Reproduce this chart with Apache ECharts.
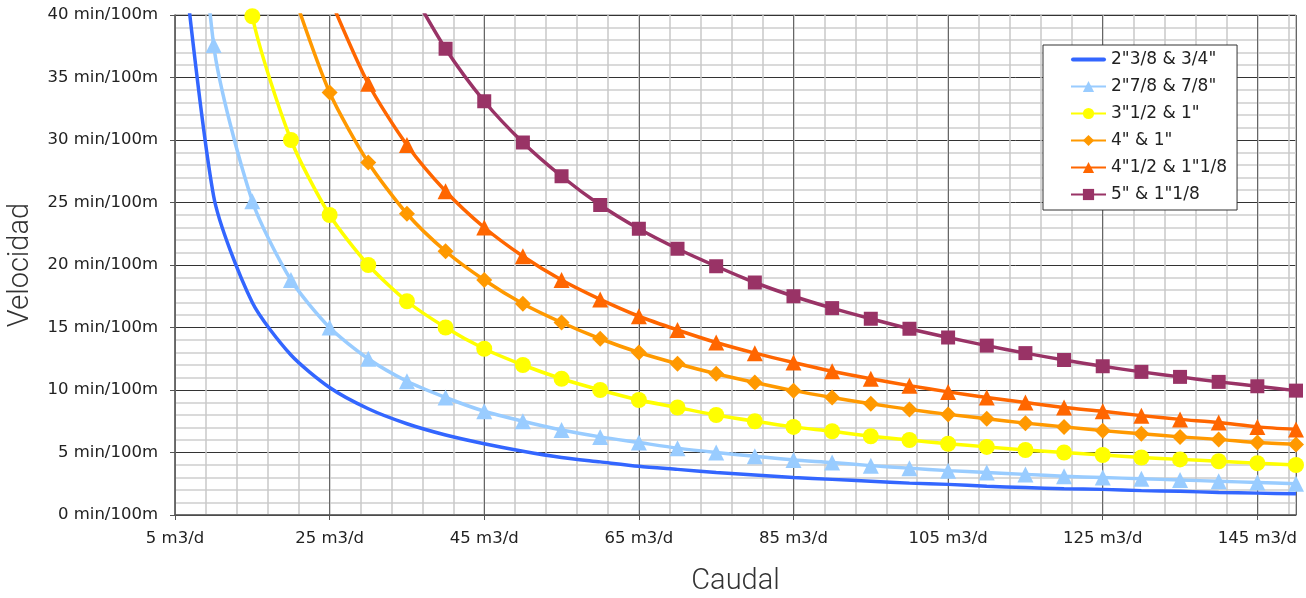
<!DOCTYPE html>
<html><head><meta charset="utf-8">
<script src="https://cdn.jsdelivr.net/npm/echarts@6/dist/echarts.min.js"></script>
<style>html,body{margin:0;padding:0;background:#fff}#c{width:1306px;height:598px}</style>
</head><body><div id="c"></div>
<script>
// Caudal (m3/d)
var caudal = [5,10,15,20,25,30,35,40,45,50,55,60,65,70,75,80,85,90,95,100,105,110,115,120,125,130,135,140,145,150];
var seriesNames = ['2"3/8 & 3/4"', '2"7/8 & 7/8"', '3"1/2 & 1"', '4" & 1"', '4"1/2 & 1"1/8', '5" & 1"1/8'];
// Velocidad (min/100m)
var v1 = [51,25.5,17,12.8,10.2,8.5,7.3,6.4,5.7,5.1,4.6,4.25,3.9,3.65,3.4,3.2,3.0,2.85,2.7,2.55,2.45,2.3,2.2,2.1,2.05,1.95,1.9,1.8,1.75,1.7];
var v2 = [75,37.6,25.1,18.8,15.0,12.5,10.7,9.4,8.3,7.5,6.8,6.25,5.8,5.35,5.0,4.7,4.4,4.2,3.95,3.75,3.55,3.4,3.25,3.1,3.0,2.9,2.8,2.7,2.6,2.5];
var v3 = [null,60,39.9,30,24,20,17.1,15,13.3,12,10.9,10,9.2,8.6,8,7.5,7.05,6.7,6.3,6,5.7,5.45,5.2,5,4.8,4.6,4.45,4.3,4.15,4.0];
var v4 = [null,null,null,42.3,33.8,28.2,24.1,21.1,18.8,16.9,15.4,14.1,13,12.1,11.3,10.6,9.95,9.4,8.9,8.45,8.05,7.7,7.35,7.05,6.75,6.5,6.25,6.05,5.8,5.65];
var v5 = [null,null,null,null,41.4,34.5,29.6,25.9,23,20.7,18.8,17.25,15.9,14.8,13.8,12.95,12.2,11.5,10.9,10.35,9.85,9.4,9.0,8.6,8.3,7.95,7.65,7.4,7.05,6.85];
var v6 = [null,null,null,null,null,null,42.6,37.3,33.1,29.8,27.1,24.8,22.9,21.3,19.9,18.6,17.5,16.55,15.7,14.9,14.2,13.55,12.95,12.4,11.9,11.45,11.05,10.65,10.3,9.95];
var values = [v1,v2,v3,v4,v5,v6];
var colors = ['#3366ff','#99ccff','#ffff00','#ff9900','#ff6600','#993366'];
var symbols = ['none','triangle','circle','diamond','triangle','rect'];
var symSizes = [0,16,16,16,16,14];

function pairs(arr){ return caudal.map(function(q,i){ return arr[i]==null ? null : [q, arr[i]]; }).filter(function(p){return p;}); }

var tickFont = 'DejaVu Sans, sans-serif';
var legendData = seriesNames.map(function(n,i){
  return i===0 ? {name:n, icon:'path://M2,0 L33,0 A2,2 0 0 1 33,4 L2,4 A2,2 0 0 1 2,0 Z'} : {name:n};
});

var chart = echarts.init(document.getElementById('c'));
chart.setOption({
  animation:false,
  grid:{left:175,right:10,top:15,bottom:83,show:true,borderColor:'#888',borderWidth:1,outerBoundsMode:'none',containLabel:false},
  legend:{
    orient:'vertical', left:1043, top:45,
    backgroundColor:'#fff', borderColor:'#333', borderWidth:1,
    padding:[6,10,7,27], itemWidth:35, itemHeight:14, itemGap:10,
    textStyle:{fontFamily:tickFont, fontSize:17, color:'#222', lineHeight:17},
    data: legendData
  },
  xAxis:[{
    type:'value', min:5, max:150, interval:20,
    name:'Caudal', nameLocation:'middle', nameGap:52,
    nameTextStyle:{fontFamily:'Roboto, sans-serif', fontWeight:300, fontSize:29, color:'#333', lineHeight:29},
    axisLine:{show:true, lineStyle:{color:'#555', width:1.5}},
    axisTick:{show:true, length:5, lineStyle:{color:'#555'}},
    axisLabel:{formatter:'{value} m3/d', fontFamily:tickFont, fontSize:16.5, color:'#222', margin:15, showMaxLabel:false},
    splitLine:{show:true, lineStyle:{color:'#666', width:1}},
    z:2
  },{
    type:'value', min:5, max:150, interval:4, position:'bottom',
    axisLine:{show:false}, axisTick:{show:false}, axisLabel:{show:false},
    splitLine:{show:true, lineStyle:{color:'#c8c8c8', width:1.5}},
    z:0
  }],
  yAxis:{
    type:'value', min:0, max:40, interval:5,
    name:'Velocidad', nameLocation:'middle', nameGap:140, nameRotate:90,
    nameTextStyle:{fontFamily:'Roboto, sans-serif', fontWeight:300, fontSize:29, color:'#333'},
    axisLine:{show:true, lineStyle:{color:'#555', width:1.5}},
    axisTick:{show:true, length:5, lineStyle:{color:'#555'}},
    axisLabel:{formatter:'{value} min/100m', fontFamily:tickFont, fontSize:16.5, color:'#222', margin:17},
    splitLine:{show:true, lineStyle:{color:'#333', width:1}},
    minorTick:{show:false, splitNumber:5},
    minorSplitLine:{show:true, lineStyle:{color:'#dadada', width:2}}
  },
  series: values.map(function(arr,i){
    return {
      name: seriesNames[i], type:'line', data: pairs(arr), xAxisIndex:0,
      symbol: symbols[i], symbolSize: symSizes[i], showSymbol: i>0,
      showAllSymbol:true, clip:true, smooth:0.25,
      lineStyle:{color:colors[i], width:3.5},
      itemStyle:{color:colors[i]},
      emphasis:{disabled:true}, z:3+i
    };
  })
});
</script></body></html>
